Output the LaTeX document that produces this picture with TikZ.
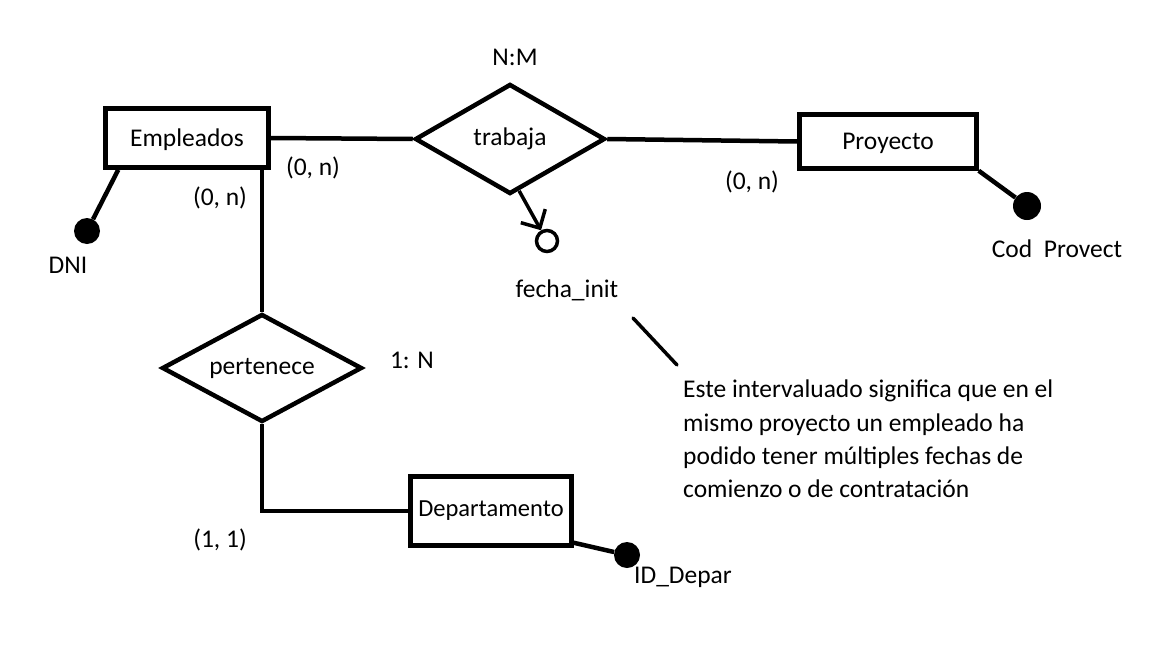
\documentclass[tikz,border=0pt]{standalone}
\usepackage{fontspec}
\setmainfont{Carlito}
\usepackage{tikz}
\usetikzlibrary{arrows.meta}
\usetikzlibrary{shapes.geometric, calc}

\tikzset{
  texto/.style={font=\fontsize{25.5}{30}\selectfont, inner sep=0pt},
  entidad/.style={texto, draw, line width=4.5pt},
  relacion/.style={texto, draw, diamond, aspect=1.8, line width=4.5pt},
  clave/.style={circle, fill=black, inner sep=0pt},
  enlace/.style={line width=4.5pt},
}

\begin{document}
\begin{tikzpicture}[x=1pt, y=-1pt]
                \useasboundingbox (0,0) rectangle (1152,648);
                % entidades
                \node[entidad, text depth=-6pt, minimum width=163, minimum height=59] (emp) at (187,138) {Empleados};
                \node[entidad, text depth=-4pt, minimum width=177, minimum height=54] (proy) at (888,141.5) {Proyecto};
                \node[entidad, font=\fontsize{24.5}{29}\selectfont, minimum width=161, minimum height=69] (dep) at (491,511) {Departamento};
                % relaciones
                \node[relacion, minimum width=190, minimum height=110] (trab) at (510,139) {trabaja};
                \node[relacion, minimum width=200, minimum height=108] (pert) at (262,368) {pertenece};
                % claves
                \node[clave, minimum size=26] (dni) at (87,231) {};
                \node[clave, minimum size=28] (cod) at (1027,206) {};
                \node[clave, minimum size=26] (idd) at (627,555) {};
                \node[circle, draw, line width=3.5pt, minimum size=21, inner sep=0pt] (fecha) at (547,241) {};
                % conexiones
                \draw[enlace] (emp.east) -- (trab.west);
                \draw[enlace] (trab.east) -- (proy.west);
                \draw[enlace] (pert.north) -- (pert.north |- emp.south);
                \draw[enlace] (pert.south) |- (dep.west);
                \draw[enlace] ([xshift=15pt]emp.south west) -- (dni);
                \draw[enlace] (proy.south east) -- (cod);
                \draw[enlace] ([yshift=5pt]dep.south east) -- (idd);
                \draw[line width=3.5pt, -{Straight Barb[length=14pt, width=28pt]}] (trab.-80) -- (fecha);
                \coordinate (p1) at (633,318);
                \coordinate (p2) at (677,365);
                \draw[line width=3.5pt, line cap=round] (p1) -- (p2);
                % etiquetas
                \node[texto] (nm) at (515,57) {N:M};
                \node[texto] (c1) at (313,168) {(0, n)};
                \node[texto] (c2) at (220,198) {(0, n)};
                \node[texto] (c3) at (752,182) {(0, n)};
                \node[texto] (un) at (412,360) {1: N};
                \node[texto] (c4) at (220,540) {(1, 1)};
                \node[texto] (tdni) at (68,265) {DNI};
                \node[texto] (tcod) at (1057,249) {Cod~~Provect};
                \node[texto] (tidd) at (683,577) {ID\_Depar};
                \node[texto] (tfecha) at (567,290) {fecha\_init};
                \node[texto, font=\fontsize{25.5}{33.3}\selectfont, align=left, anchor=north west] (nota) at (683,380)
                    {Este intervaluado significa que en el\\mismo proyecto un empleado ha\\podido tener múltiples fechas de\\comienzo o de contratación};
            \end{tikzpicture}
\end{document}
